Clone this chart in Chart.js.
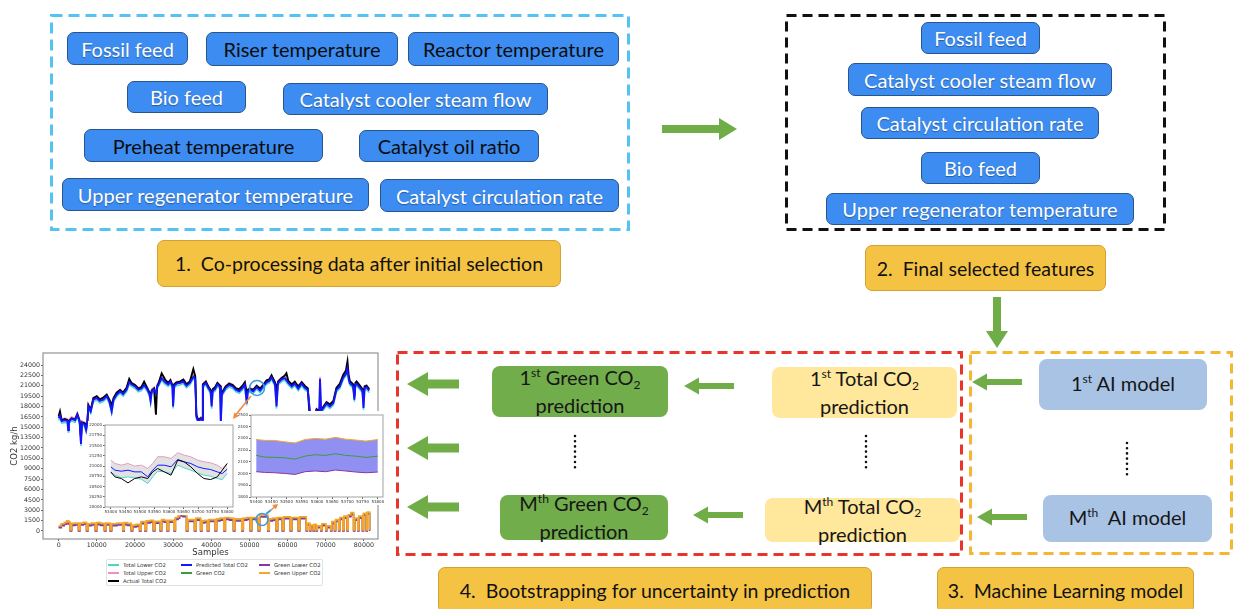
<!DOCTYPE html>
<html>
<head>
<meta charset="utf-8">
<script src="https://cdn.jsdelivr.net/npm/chart.js@4.4.1/dist/chart.umd.min.js"></script>
<style>
html,body{margin:0;padding:0;background:#fff;}
body{width:1234px;height:609px;position:relative;overflow:hidden;font-family:Lato,"Open Sans",sans-serif;}
.abs{position:absolute;}
.btn{position:absolute;box-sizing:border-box;background:#3c8cf1;border:1.5px solid #28558d;border-radius:7px;display:flex;align-items:center;justify-content:center;font-size:20px;white-space:nowrap;z-index:2;}
.btn.w{color:#fff;text-shadow:0 1px 1px rgba(0,0,0,.35);}
.btn.k{color:#0c0c0c;}
.tag{position:absolute;box-sizing:border-box;background:#f5c343;border:1px solid #d2a334;border-radius:7px;display:flex;align-items:center;justify-content:center;font-size:19.5px;color:#111;white-space:pre;z-index:2;}
.card{position:absolute;box-sizing:border-box;border-radius:8px;display:flex;align-items:center;justify-content:center;text-align:center;font-size:20px;line-height:25px;color:#161616;z-index:2;}
.card > div{white-space:nowrap;}
.g{background:#72ad4c;}
.y{background:#ffe79c;}
.b{background:#a8c3e4;}
.sp{font-size:0.6em;position:relative;top:-0.65em;}
.sb{font-size:0.6em;position:relative;top:0.3em;}
.cv{position:absolute;}
#legend{position:absolute;left:106px;top:559px;width:217px;height:27px;box-sizing:border-box;border:1px solid #e2e2e2;border-radius:2px;background:#fff;z-index:3;font-family:"DejaVu Sans",sans-serif;}
.li{position:absolute;font-size:5.3px;color:#333;white-space:nowrap;line-height:6px;}
.sw{position:absolute;height:1.4px;width:11px;}
</style>
</head>
<body>

<!-- dashed group frames, arrows and dotted ellipses -->
<svg class="abs" style="left:0;top:0;z-index:1" width="1234" height="609">
  <rect x="51.5" y="15.5" width="577" height="214" fill="none" stroke="#55c3f2" stroke-width="3" stroke-dasharray="11 6"/>
  <rect x="786.5" y="15.5" width="378" height="214" fill="none" stroke="#111" stroke-width="3" stroke-dasharray="10 6"/>
  <rect x="397.5" y="352.5" width="564" height="202" fill="none" stroke="#e8352c" stroke-width="3" stroke-dasharray="10 6"/>
  <rect x="970.5" y="352.5" width="261" height="201" fill="none" stroke="#f3b731" stroke-width="3" stroke-dasharray="10 6"/>
  <g fill="#71ad47">
    <polygon points="662,125 719,125 719,118 737,129 719,140 719,133 662,133"/>
    <polygon points="993,297 1001,297 1001,331 1008,331 997,348 986,331 993,331"/>
    <polygon points="407,384 428,372 428,379.5 459,379.5 459,388.5 428,388.5 428,396"/>
    <polygon points="407,448 428,436 428,443.5 459,443.5 459,452.5 428,452.5 428,460"/>
    <polygon points="407,507 428,495 428,502.5 459,502.5 459,511.5 428,511.5 428,519"/>
    <polygon points="684,386 699,377.5 699,383 734,383 734,389 699,389 699,394.5"/>
    <polygon points="693,515 708,506.5 708,512 743,512 743,518 708,518 708,523.5"/>
    <polygon points="972,382 987,373.5 987,379 1022,379 1022,385 987,385 987,390.5"/>
    <polygon points="977,517 992,508.5 992,514 1027,514 1027,520 992,520 992,525.5"/>
  </g>
  <g stroke="#111" stroke-width="2.6" stroke-linecap="round" stroke-dasharray="0 5.2">
    <line x1="575" y1="436" x2="575" y2="472"/>
    <line x1="866" y1="436" x2="866" y2="472"/>
    <line x1="1127" y1="443" x2="1127" y2="478"/>
  </g>
</svg>

<!-- 1. initial selection -->
<div class="btn w" style="left:67px;top:32px;width:121px;height:33px">Fossil feed</div>
<div class="btn k" style="left:206px;top:32px;width:192px;height:34px">Riser temperature</div>
<div class="btn k" style="left:408px;top:32px;width:211px;height:34px">Reactor temperature</div>
<div class="btn w" style="left:127px;top:81px;width:119px;height:32px">Bio feed</div>
<div class="btn w" style="left:283px;top:83px;width:265px;height:32px">Catalyst cooler steam flow</div>
<div class="btn k" style="left:84px;top:129px;width:239px;height:33px">Preheat temperature</div>
<div class="btn k" style="left:359px;top:130px;width:180px;height:32px">Catalyst oil ratio</div>
<div class="btn w" style="left:62px;top:178px;width:307px;height:33px">Upper regenerator temperature</div>
<div class="btn w" style="left:380px;top:179px;width:239px;height:33px">Catalyst circulation rate</div>
<div class="tag" style="left:157px;top:240px;width:404px;height:47px">1.  Co-processing data after initial selection</div>

<!-- 2. final features -->
<div class="btn w" style="left:921px;top:22px;width:119px;height:32px">Fossil feed</div>
<div class="btn w" style="left:848px;top:63px;width:264px;height:33px">Catalyst cooler steam flow</div>
<div class="btn w" style="left:861px;top:107px;width:238px;height:32px">Catalyst circulation rate</div>
<div class="btn w" style="left:921px;top:152px;width:119px;height:32px">Bio feed</div>
<div class="btn w" style="left:826px;top:193px;width:308px;height:32px">Upper regenerator temperature</div>
<div class="tag" style="left:865px;top:245px;width:241px;height:46px">2.  Final selected features</div>

<!-- 3. models, 4. bootstrapping -->
<div class="card b" style="left:1039px;top:359px;width:168px;height:51px"><div>1<span class="sp">st</span> AI model</div></div>
<div class="card b" style="left:1043px;top:495px;width:169px;height:47px"><div>M<span class="sp">th</span>&nbsp; AI model</div></div>
<div class="card g" style="left:492px;top:366px;width:176px;height:51px"><div>1<span class="sp">st</span> Green CO<span class="sb">2</span><br>prediction</div></div>
<div class="card g" style="left:500px;top:495px;width:168px;height:45px"><div>M<span class="sp">th</span> Green CO<span class="sb">2</span><br>prediction</div></div>
<div class="card y" style="left:772px;top:367px;width:185px;height:51px"><div>1<span class="sp">st</span> Total CO<span class="sb">2</span><br>prediction</div></div>
<div class="card y" style="left:765px;top:498px;width:195px;height:44px"><div>M<span class="sp">th</span> Total CO<span class="sb">2</span><br>prediction</div></div>
<div class="tag" style="left:438px;top:567px;width:434px;height:46px">4.  Bootstrapping for uncertainty in prediction</div>
<div class="tag" style="left:937px;top:567px;width:257px;height:46px">3.  Machine Learning model</div>

<!-- CO2 charts -->
<div class="cv" style="left:0;top:346px;z-index:2"><canvas id="main" width="385" height="212"></canvas></div>
<div class="cv" style="left:88px;top:421px;z-index:3;background:#fff"><canvas id="zoomTotal" width="148" height="94"></canvas></div>
<div class="cv" style="left:238px;top:411px;z-index:3;background:#fff"><canvas id="zoomGreen" width="148" height="94"></canvas></div>
<div id="legend"></div>

<!-- zoom markers -->
<svg class="abs" style="left:0;top:0;z-index:5" width="400" height="609">
  <circle cx="257" cy="388" r="7.5" fill="none" stroke="#3b9be0" stroke-width="1.6"/>
  <line x1="251" y1="396" x2="236" y2="414.5" stroke="#f08a3c" stroke-width="1.6"/>
  <polygon points="233,419 239,416 234.2,412.4" fill="#f08a3c"/>
  <circle cx="262" cy="519.5" r="6" fill="none" stroke="#3b9be0" stroke-width="1.6"/>
  <line x1="266" y1="514" x2="271" y2="510" stroke="#3b9be0" stroke-width="2"/>
  <line x1="271" y1="510" x2="274.5" y2="507" stroke="#f08a3c" stroke-width="1.6"/>
  <polygon points="278,504 275.9,509.4 272.3,505" fill="#f08a3c"/>
</svg>

<script>
// ---- axis ticks ----
const mainXTicks = [0, 10000, 20000, 30000, 40000, 50000, 60000, 70000, 80000];
const mainYTicks = [0, 1500, 3000, 4500, 6000, 7500, 9000, 10500, 12000, 13500, 15000, 16500,
  18000, 19500, 21000, 22500, 24000];
const zoomXTicks = [53400, 53450, 53500, 53550, 53600, 53650, 53700, 53750, 53800];
const zoomTotalYTicks = [20000, 20250, 20500, 20750, 21000, 21250, 21500, 21750, 22000];
const zoomGreenYTicks = [1800, 1900, 2000, 2100, 2200, 2300, 2400, 2500];

// ---- total CO2 over the whole run (kg/h) ----
const totalSamples = [
  0, 350, 800, 1600, 2300, 2500, 2700, 3400, 4300, 4900,
  5500, 5850, 6100, 6800, 7200, 7500, 7800, 8400, 9100, 10000,
  10800, 11700, 12600, 13300, 13900, 14400, 15200, 16100, 16900, 17800,
  18500, 19100, 20000, 20900, 21700, 22400, 23200, 23800, 24100, 24400,
  25000, 25500, 25800, 26200, 27000, 27900, 28700, 29300, 29800, 30000,
  30300, 30900, 31800, 32700, 33500, 34400, 35300, 35800, 36100, 36600,
  37300, 37600, 37800, 38600, 39200, 39800, 40100, 40400, 41000, 41600,
  42300, 42500, 42800, 43800, 44700, 45600, 46500, 47300, 48200, 48800,
  49300, 49600, 50100, 51000, 51900, 52800, 53600, 54500, 55200, 55800,
  56700, 57100, 57500, 58400, 59300, 59700, 60200, 61100, 61900, 62800,
  63700, 64500, 65300, 65900, 66300, 66800, 67600, 68300, 68500, 68800,
  69300, 70200, 71100, 72000, 72800, 73700, 74600, 75300, 75700, 76000,
  76300, 77200, 77500, 77800, 78100, 79000, 79600, 79900, 80200, 80700,
  81400];
const predictedTotal = [
  16300, 16700, 15900, 16000, 15900, 14600, 15800, 16200, 16000, 16800,
  15800, 12600, 15600, 15400, 14600, 15500, 18000, 17300, 19000, 19200,
  18800, 19000, 19500, 18700, 17300, 19000, 19700, 20200, 19800, 20400,
  21500, 21200, 20900, 20400, 20600, 21100, 20500, 19800, 18800, 20200,
  20500, 19900, 20800, 21200, 22100, 21500, 21200, 21600, 20900, 18000,
  21000, 21300, 21400, 21600, 21000, 21400, 22300, 22000, 16500, 15800,
  16200, 16000, 21000, 21400, 20700, 20200, 18000, 20300, 20500, 21200,
  20800, 15500, 19800, 20700, 21100, 20900, 20400, 20200, 20700, 21200,
  18500, 20200, 20400, 20200, 20800, 20300, 20900, 21500, 21700, 22200,
  21200, 18000, 21400, 21900, 22100, 21800, 21400, 20900, 21300, 20600,
  21300, 20700, 20400, 17000, 16500, 16200, 17400, 17100, 22000, 17300,
  17700, 18400, 18000, 18500, 20400, 20900, 22200, 22700, 23500, 22000,
  21400, 20900, 19000, 21200, 21300, 20700, 20300, 17800, 20700, 20800,
  20300];
const actualTotal = [
  16600, 17300, 16000, 16200, 16000, 15800, 15900, 16300, 16100, 16900,
  15900, 13500, 15700, 15600, 15300, 15600, 18200, 17500, 19200, 19500,
  19000, 19300, 19700, 19000, 18200, 19200, 20000, 20400, 20000, 20700,
  22000, 21400, 21100, 20600, 20800, 21600, 20700, 20000, 19500, 20300,
  20600, 16800, 20900, 21400, 22800, 21900, 21400, 21800, 21100, 20800,
  21200, 21500, 21600, 21900, 21200, 21600, 23400, 22400, 16800, 16000,
  16300, 16200, 21200, 21600, 20900, 20400, 19800, 20500, 20800, 21400,
  21000, 19500, 20000, 20900, 21300, 21100, 20600, 20500, 21000, 21500,
  20000, 20400, 20600, 20400, 21000, 20600, 21100, 21800, 21900, 22500,
  21500, 20500, 21600, 22100, 22500, 22800, 21700, 21200, 21600, 20900,
  21500, 21000, 20600, 15500, 15000, 16000, 17600, 17300, 18000, 17500,
  17900, 18600, 18300, 18800, 20700, 21300, 22600, 23200, 24500, 22600,
  21700, 21200, 19500, 21400, 21600, 21000, 20500, 19500, 20900, 21000,
  20500];
const totalUpper = [
  16600, 17000, 16200, 16300, 16200, 15000, 16100, 16500, 16300, 17100,
  16100, 13000, 15900, 15700, 15000, 15800, 18300, 17600, 19300, 19500,
  19100, 19300, 19800, 19000, 17700, 19300, 20000, 20500, 20100, 20700,
  21800, 21500, 21200, 20700, 20900, 21400, 20800, 20100, 19200, 20500,
  20800, 20200, 21100, 21500, 22400, 21800, 21500, 21900, 21200, 18400,
  21300, 21600, 21700, 21900, 21300, 21700, 22600, 22300, 16900, 16100,
  16500, 16300, 21300, 21700, 21000, 20500, 18400, 20600, 20800, 21500,
  21100, 15900, 20100, 21000, 21400, 21200, 20700, 20500, 21000, 21500,
  18900, 20500, 20700, 20500, 21100, 20600, 21200, 21800, 22000, 22500,
  21500, 18400, 21700, 22200, 22400, 22100, 21700, 21200, 21600, 20900,
  21600, 21000, 20700, 17400, 16900, 16500, 17700, 17400, 22300, 17600,
  18000, 18700, 18300, 18800, 20700, 21200, 22500, 23000, 23800, 22300,
  21700, 21200, 19400, 21500, 21600, 21000, 20600, 18200, 21000, 21100,
  20600];
const totalLower = [
  16000, 16400, 15600, 15700, 15600, 14300, 15500, 15900, 15700, 16500,
  15500, 12300, 15300, 15100, 14300, 15200, 17700, 17000, 18700, 18900,
  18500, 18700, 19200, 18400, 17000, 18700, 19400, 19900, 19500, 20100,
  21200, 20900, 20600, 20100, 20300, 20800, 20200, 19500, 18500, 19900,
  20200, 19600, 20500, 20900, 21800, 21200, 20900, 21300, 20600, 17700,
  20700, 21000, 21100, 21300, 20700, 21100, 22000, 21700, 16200, 15500,
  15900, 15700, 20700, 21100, 20400, 19900, 17700, 20000, 20200, 20900,
  20500, 15200, 19500, 20400, 20800, 20600, 20100, 19900, 20400, 20900,
  18200, 19900, 20100, 19900, 20500, 20000, 20600, 21200, 21400, 21900,
  20900, 17700, 21100, 21600, 21800, 21500, 21100, 20600, 21000, 20300,
  21000, 20400, 20100, 16700, 16200, 15900, 17100, 16800, 21700, 17000,
  17400, 18100, 17700, 18200, 20100, 20600, 21900, 22400, 23200, 21700,
  21100, 20600, 18700, 20900, 21000, 20400, 20000, 17500, 20400, 20500,
  20000];

// ---- green CO2 (each value holds until the next sample listed) ----
const greenSamples = [
  0, 700, 1500, 2100, 2600, 3000, 3400, 4300, 5200, 5600,
  6500, 7300, 7700, 8600, 9600, 10000, 11000, 12000, 12400, 13500,
  13900, 15300, 16800, 17200, 18000, 19000, 19400, 20300, 21200, 21600,
  22600, 23000, 24000, 24800, 25200, 26600, 27000, 27700, 28400, 28800,
  30200, 30600, 31300, 31700, 32600, 33500, 33900, 35600, 36000, 37200,
  37600, 38300, 39000, 39400, 41000, 41400, 42300, 43300, 43700, 44800,
  45800, 46200, 48000, 48400, 49300, 50200, 50600, 52300, 52700, 54800,
  55200, 56100, 57000, 57400, 58600, 59000, 60700, 61100, 62800, 63200,
  64900, 65200, 65800, 66100, 66700, 67000, 67500, 67800, 68700, 69000,
  70000, 70300, 71300, 71600, 72300, 72600, 73400, 73700, 74500, 74800,
  75600, 75900, 76600, 77300, 77600, 78400, 78700, 79600, 79900, 80600,
  80900, 81500];
const greenCO2 = [
  600, 900, 1100, 1300, 1150, 60, 950, 1000, 60, 1000,
  1100, 60, 900, 1000, 60, 1050, 950, 60, 1000, 60,
  900, 1000, 60, 1050, 950, 60, 700, 800, 60, 1200,
  60, 1300, 1400, 60, 1250, 60, 1500, 1400, 60, 1400,
  60, 1800, 2000, 2300, 2200, 60, 1500, 60, 1700, 60,
  1300, 1400, 60, 1500, 60, 1600, 1700, 60, 1800, 1700,
  60, 1600, 60, 1700, 1800, 60, 1800, 60, 2150, 60,
  1600, 1700, 60, 1800, 60, 1900, 60, 1800, 60, 1900,
  60, 1000, 60, 700, 60, 800, 60, 600, 60, 900,
  60, 600, 60, 1200, 60, 1500, 60, 1800, 60, 2000,
  60, 2200, 2500, 60, 1700, 60, 2000, 60, 2400, 60,
  2600, 60];
const greenUpper = [
  750, 1050, 1250, 1450, 1300, 150, 1100, 1150, 150, 1150,
  1250, 150, 1050, 1150, 150, 1200, 1100, 150, 1150, 150,
  1050, 1150, 150, 1200, 1100, 150, 850, 950, 150, 1350,
  150, 1450, 1550, 150, 1400, 150, 1650, 1550, 150, 1550,
  150, 1950, 2150, 2450, 2350, 150, 1650, 150, 1850, 150,
  1450, 1550, 150, 1650, 150, 1750, 1850, 150, 1950, 1850,
  150, 1750, 150, 1850, 1950, 150, 1950, 150, 2290, 150,
  1750, 1850, 150, 1950, 150, 2050, 150, 1950, 150, 2050,
  150, 1150, 150, 850, 150, 950, 150, 750, 150, 1050,
  150, 750, 150, 1350, 150, 1650, 150, 1950, 150, 2150,
  150, 2350, 2650, 150, 1850, 150, 2150, 150, 2550, 150,
  2750, 150];
const greenLower = [
  460, 760, 960, 1160, 1010, 0, 810, 860, 0, 860,
  960, 0, 760, 860, 0, 910, 810, 0, 860, 0,
  760, 860, 0, 910, 810, 0, 560, 660, 0, 1060,
  0, 1160, 1260, 0, 1110, 0, 1360, 1260, 0, 1260,
  0, 1660, 1860, 2160, 2060, 0, 1360, 0, 1560, 0,
  1160, 1260, 0, 1360, 0, 1460, 1560, 0, 1660, 1560,
  0, 1460, 0, 1560, 1660, 0, 1660, 0, 2010, 0,
  1460, 1560, 0, 1660, 0, 1760, 0, 1660, 0, 1760,
  0, 860, 0, 560, 0, 660, 0, 460, 0, 760,
  0, 460, 0, 1060, 0, 1360, 0, 1660, 0, 1860,
  0, 2060, 2360, 0, 1560, 0, 1860, 0, 2260, 0,
  2460, 0];

// ---- close-up of total CO2, samples 53400-53800 ----
const zoomTotalSamples = [53400, 53414, 53436, 53459, 53482, 53505, 53527, 53544, 53561, 53584,
  53607, 53630, 53652, 53675, 53698, 53720, 53743, 53766, 53783, 53800];
const zoomTotalUpper = [21143, 21061, 21020, 21061, 20996, 21020, 20939, 21061, 21224, 21224,
  21184, 21322, 21265, 21224, 21143, 21102, 21078, 21020, 20939, 21061];
const zoomPredicted = [20980, 20898, 20873, 20898, 20857, 20857, 20735, 20898, 21020, 21020,
  20980, 21159, 21102, 21061, 20980, 20939, 20914, 20857, 20816, 20922];
const zoomTotalLower = [20833, 20776, 20710, 20735, 20710, 20678, 20571, 20735, 20873, 20857,
  20816, 21020, 20955, 20898, 20833, 20776, 20751, 20694, 20669, 20816];
const zoomActual = [20857, 20735, 20694, 20588, 20694, 20735, 20694, 20857, 20939, 20857,
  20776, 21143, 21102, 20980, 20816, 20694, 20669, 20735, 20898, 21061];

// ---- close-up of green CO2, samples 53400-53800 ----
const zoomGreenSamples = [53400, 53428, 53461, 53494, 53528, 53561, 53594, 53628, 53661, 53694,
  53728, 53761, 53800];
const zoomGreenUpper = [2291, 2283, 2283, 2271, 2262, 2291, 2300, 2294, 2309, 2294, 2286, 2277, 2291];
const zoomGreen = [2155, 2141, 2138, 2135, 2123, 2149, 2161, 2155, 2170, 2155, 2149, 2138, 2149];
const zoomGreenLower = [2016, 2010, 2007, 2001, 1993, 2016, 2022, 2016, 2030, 2022, 2013, 2007, 2013];

// ---- series styling ----
const COLORS = {
  totalLower: '#4ad6cc', totalUpper: '#f28dc2', actual: '#000000', predicted: '#1414ff',
  green: '#3d9a3d', greenLower: '#8a34a6', greenUpper: '#f6a52a'
};
const legendItems = [
  ['Total Lower CO2', COLORS.totalLower, 0, 0],
  ['Total Upper CO2', COLORS.totalUpper, 0, 1],
  ['Actual Total CO2', COLORS.actual, 0, 2],
  ['Predicted Total CO2', COLORS.predicted, 1, 0],
  ['Green CO2', COLORS.green, 1, 1],
  ['Green Lower CO2', COLORS.greenLower, 2, 0],
  ['Green Upper CO2', COLORS.greenUpper, 2, 1]
];

Chart.defaults.font.family = '"DejaVu Sans", sans-serif';

function pts(xs, ys) { return xs.map((x, i) => ({ x: x, y: ys[i] })); }
function fixedTicks(list) { return s => { s.ticks = list.map(v => ({ value: v })); }; }
function series(label, xs, ys, color, width, extra) {
  return Object.assign({
    label: label, data: pts(xs, ys), borderColor: color, backgroundColor: color,
    borderWidth: width, pointRadius: 0, tension: 0, fill: false
  }, extra || {});
}

// frame round the plotting area
const frame = {
  id: 'frame',
  afterDatasetsDraw(chart, args, opts) {
    const a = chart.chartArea, c = chart.ctx;
    c.save();
    c.strokeStyle = opts.color;
    c.lineWidth = opts.width;
    c.strokeRect(a.left, a.top, a.right - a.left, a.bottom - a.top);
    c.restore();
  }
};

function axis(min, max, ticks, size, fit, extra) {
  return Object.assign({
    type: 'linear', min: min, max: max,
    afterBuildTicks: fixedTicks(ticks),
    afterFit: fit,
    grid: { drawOnChartArea: false, drawTicks: true, tickLength: 2, color: '#666' },
    border: { display: false },
    ticks: { font: { size: size }, color: '#333', padding: 1, maxRotation: 0, autoSkip: false,
             callback: v => String(v) }
  }, extra || {});
}

function baseOptions(pad, frameColor, scales) {
  return {
    responsive: false, animation: false, events: [],
    layout: { padding: pad },
    plugins: { legend: { display: false }, tooltip: { enabled: false },
               frame: { color: frameColor, width: 1.1 } },
    scales: scales
  };
}

// whole run
new Chart(document.getElementById('main'), {
  type: 'line',
  data: { datasets: [
    series('Green Upper CO2', greenSamples, greenUpper, COLORS.greenUpper, 1.7, { stepped: 'before' }),
    series('Green Lower CO2', greenSamples, greenLower, COLORS.greenLower, 1.5, { stepped: 'before' }),
    series('Green CO2', greenSamples, greenCO2, COLORS.green, 1.5, { stepped: 'before' }),
    series('Predicted Total CO2', totalSamples, predictedTotal, COLORS.predicted, 1.9),
    series('Actual Total CO2', totalSamples, actualTotal, COLORS.actual, 1.9),
    series('Total Upper CO2', totalSamples, totalUpper, COLORS.totalUpper, 1.5),
    series('Total Lower CO2', totalSamples, totalLower, COLORS.totalLower, 1.5)
  ] },
  options: baseOptions({ top: 7, right: 7, left: 0, bottom: 0 }, '#8a8a8a', {
    x: axis(-4100, 83700, mainXTicks, 6.3, s => { s.height = 19; }, {
      title: { display: true, text: 'Samples', font: { size: 8.5 }, color: '#333', padding: 0 }
    }),
    y: axis(-1157, 25735, mainYTicks, 6.3, s => { s.width = 43; }, {
      title: { display: true, text: 'CO2 kg/h', font: { size: 8.5 }, color: '#333',
               padding: { top: 9.5, bottom: 0 } }
    })
  }),
  plugins: [frame]
});

// close-up: total CO2 with its band
new Chart(document.getElementById('zoomTotal'), {
  type: 'line',
  data: { datasets: [
    series('Actual Total CO2', zoomTotalSamples, zoomActual, COLORS.actual, 1),
    series('Predicted Total CO2', zoomTotalSamples, zoomPredicted, COLORS.predicted, 1),
    series('Total Lower CO2', zoomTotalSamples, zoomTotalLower, COLORS.totalLower, 1,
           { fill: { target: 3 }, backgroundColor: 'rgba(190,190,190,0.45)' }),
    series('Total Upper CO2', zoomTotalSamples, zoomTotalUpper, COLORS.totalUpper, 1)
  ] },
  options: baseOptions({ top: 4, right: 3, left: 0, bottom: 0 }, '#aaaaaa', {
    x: axis(53380, 53820, zoomXTicks, 4, s => { s.height = 8; }),
    y: axis(20000, 22000, zoomTotalYTicks, 4, s => { s.width = 17; })
  }),
  plugins: [frame]
});

// close-up: green CO2 with its band
new Chart(document.getElementById('zoomGreen'), {
  type: 'line',
  data: { datasets: [
    series('Green CO2', zoomGreenSamples, zoomGreen, COLORS.green, 1),
    series('Green Upper CO2', zoomGreenSamples, zoomGreenUpper, COLORS.greenUpper, 1),
    series('Green Lower CO2', zoomGreenSamples, zoomGreenLower, COLORS.greenLower, 1,
           { fill: { target: 1 }, backgroundColor: 'rgba(70,70,235,0.6)' })
  ] },
  options: baseOptions({ top: 4, right: 3, left: 0, bottom: 0 }, '#aaaaaa', {
    x: axis(53383, 53817, zoomXTicks, 4, s => { s.height = 8; }),
    y: axis(1800, 2500, zoomGreenYTicks, 4, s => { s.width = 13; })
  }),
  plugins: [frame]
});

// legend under the plot
const legend = document.getElementById('legend');
const colX = [1, 74, 152], rowY = [6, 14, 22];
legendItems.forEach(([name, color, col, row]) => {
  const sw = document.createElement('div');
  sw.className = 'sw';
  sw.style.left = colX[col] + 'px';
  sw.style.top = (rowY[row] - 1.7) + 'px';
  sw.style.background = color;
  legend.appendChild(sw);
  const t = document.createElement('div');
  t.className = 'li';
  t.style.left = (colX[col] + 15) + 'px';
  t.style.top = (rowY[row] - 4) + 'px';
  t.textContent = name;
  legend.appendChild(t);
});
</script>
</body>
</html>
